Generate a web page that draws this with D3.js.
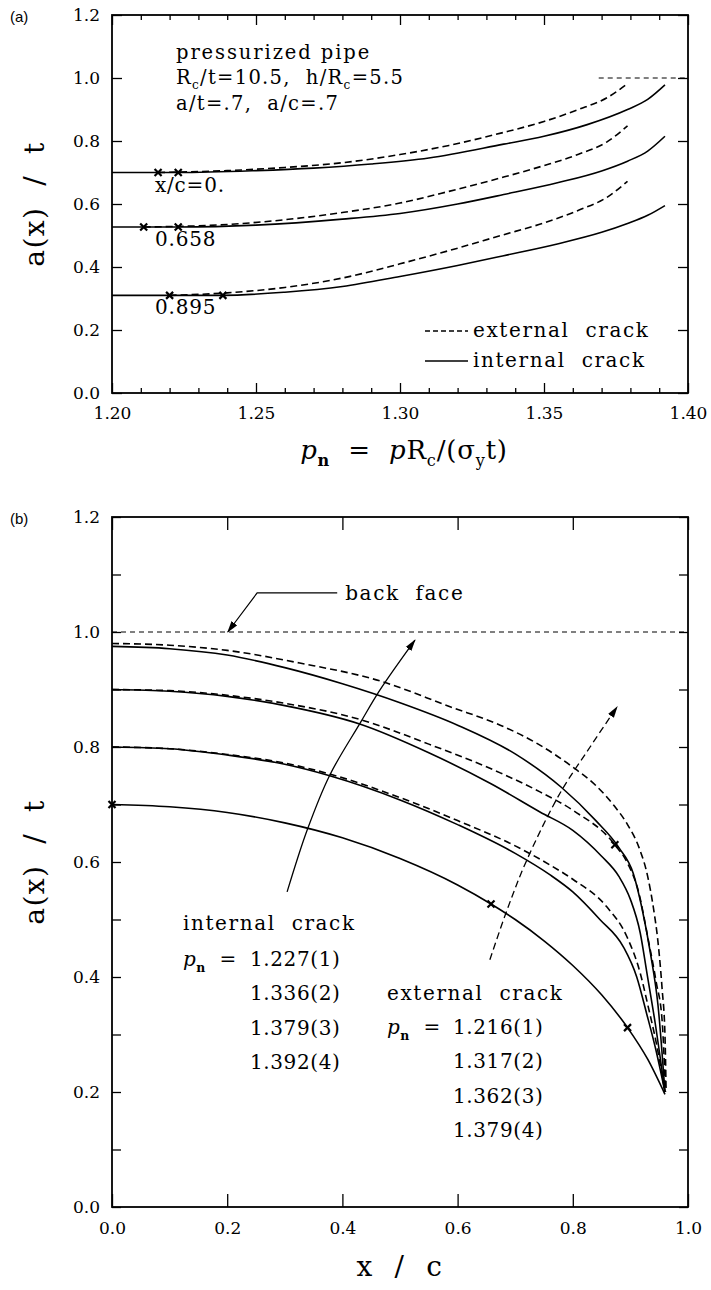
<!DOCTYPE html>
<html>
<head>
<meta charset="utf-8">
<script src="https://cdn.jsdelivr.net/npm/d3@7"></script>
<style>
  body { margin: 0; background: #fff; }
  svg text { font-family: "DejaVu Serif", serif; fill: #000; }
</style>
</head>
<body>
<svg id="chart" width="711" height="1290"></svg>
<script>

//-- panel (a) data: crack depth a(x)/t against load p_n --//
var pnTicks = [1.20, 1.25, 1.30, 1.35, 1.40];
var pnMinor = [1.21, 1.22, 1.23, 1.24, 1.26, 1.27, 1.28, 1.29, 1.31, 1.32, 1.33, 1.34, 1.36, 1.37, 1.38, 1.39];
var depthTicksA = [0, 0.2, 0.4, 0.6, 0.8, 1.0, 1.2];

// x/c = 0.
var intA0 = [[1.200,.700],[1.223,.700],[1.250,.706],[1.270,.714],[1.290,.727],[1.310,.746],[1.336,.790],[1.350,.815],[1.365,.852],[1.379,.900],[1.386,.932],[1.392,.978]];
var extA0 = [[1.216,.700],[1.240,.706],[1.260,.716],[1.280,.731],[1.300,.757],[1.317,.786],[1.335,.825],[1.350,.862],[1.362,.900],[1.372,.938],[1.379,.982]];
// x/c = 0.658
var intA1 = [[1.200,.527],[1.223,.527],[1.250,.533],[1.280,.552],[1.300,.570],[1.320,.600],[1.336,.630],[1.355,.668],[1.370,.705],[1.379,.736],[1.386,.768],[1.392,.815]];
var extA1 = [[1.211,.527],[1.240,.535],[1.260,.550],[1.280,.573],[1.300,.603],[1.317,.640],[1.335,.683],[1.350,.722],[1.362,.758],[1.372,.798],[1.379,.848]];
// x/c = 0.895
var intA2 = [[1.200,.310],[1.2385,.310],[1.260,.320],[1.280,.338],[1.300,.370],[1.320,.405],[1.336,.436],[1.355,.474],[1.370,.510],[1.379,.538],[1.386,.564],[1.392,.595]];
var extA2 = [[1.220,.310],[1.240,.318],[1.260,.335],[1.280,.365],[1.300,.410],[1.317,.452],[1.335,.500],[1.350,.540],[1.362,.580],[1.372,.622],[1.379,.672]];

var marksA = [[1.216,.700],[1.223,.700],[1.211,.527],[1.223,.527],[1.220,.310],[1.2385,.310]];
var backFaceA = [[1.369,1.0],[1.40,1.0]];
var groupLabelsA = [["x/c=0.", .700], ["0.658", .527], ["0.895", .310]];

//-- panel (b) data: crack front shape a(x)/t against x/c --//
var xcTicks = [0, 0.2, 0.4, 0.6, 0.8, 1.0];
var depthTicksB = [0, 0.2, 0.4, 0.6, 0.8, 1.0, 1.2];
var depthMinorB = [0.1, 0.3, 0.5, 0.7, 0.9, 1.1];

var shape1 = [[0,.700],[.1,.696],[.2,.686],[.3,.668],[.4,.642],[.5,.606],[.6,.560],[.658,.527],[.7,.500],[.75,.463],[.8,.420],[.85,.369],[.895,.312],[.93,.257],[.96,.196]];
var int2 = [[0,.800],[.1,.797],[.2,.786],[.3,.770],[.378,.750],[.5,.708],[.6,.665],[.7,.615],[.76,.578],[.8,.548],[.847,.500],[.888,.452],[.911,.400],[.928,.337],[.945,.270],[.96,.200]];
var int3 = [[0,.900],[.1,.897],[.2,.888],[.3,.872],[.43,.840],[.55,.790],[.658,.736],[.743,.687],[.8,.655],[.85,.610],[.88,.575],[.9,.535],[.917,.477],[.929,.405],[.943,.320],[.96,.200]];
var int4 = [[0,.975],[.1,.971],[.2,.960],[.3,.938],[.4,.910],[.5,.877],[.6,.838],[.7,.788],[.78,.730],[.84,.672],[.88,.625],[.905,.580],[.92,.520],[.935,.440],[.948,.350],[.96,.200]];
var ext2 = [[0,.800],[.1,.797],[.2,.787],[.3,.772],[.378,.753],[.5,.712],[.6,.672],[.7,.628],[.76,.595],[.8,.570],[.859,.522],[.894,.470],[.917,.407],[.931,.348],[.946,.280],[.96,.200]];
var ext3 = [[0,.900],[.1,.898],[.2,.890],[.3,.876],[.43,.848],[.55,.805],[.674,.755],[.743,.722],[.8,.690],[.873,.630],[.895,.598],[.915,.545],[.93,.470],[.945,.390],[.955,.325],[.961,.200]];
var ext4 = [[0,.980],[.1,.977],[.2,.968],[.326,.946],[.465,.915],[.587,.870],[.674,.838],[.74,.805],[.8,.765],[.84,.733],[.87,.700],[.895,.665],[.915,.625],[.93,.575],[.94,.520],[.948,.460],[.955,.380],[.96,.300],[.962,.200]];

var marksB = [[0,.700],[.658,.527],[.895,.312],[.873,.630]];
var backFaceB = [[0,1.0],[1.0,1.0]];
var backLeader = [[.391,1.068],[.252,1.068],[.201,1.0]];
var intArrow = [[.304,.548],[.339,.656],[.378,.751],[.431,.842],[.465,.899],[.526,.986]];
var extArrow = [[.656,.430],[.686,.517],[.720,.603],[.778,.720],[.830,.800],[.877,.870]];

var intLoads = ["1.227(1)", "1.336(2)", "1.379(3)", "1.392(4)"];
var extLoads = ["1.216(1)", "1.317(2)", "1.362(3)", "1.379(4)"];


//-- svg + scales --//
var svg = d3.select("#chart");

var defs = svg.append("defs");
defs.append("marker")
    .attr("id", "head")
    .attr("viewBox", "0 0 12 8")
    .attr("refX", 11).attr("refY", 4)
    .attr("markerWidth", 12).attr("markerHeight", 8)
    .attr("markerUnits", "userSpaceOnUse")
    .attr("orient", "auto")
  .append("path")
    .attr("d", "M0,0.5L12,4L0,7.5z")
    .attr("fill", "#000");

var xA = d3.scaleLinear().domain([1.20, 1.40]).range([112, 688]);
var yA = d3.scaleLinear().domain([0, 1.2]).range([393, 15]);
var xB = d3.scaleLinear().domain([0, 1]).range([112, 688]);
var yB = d3.scaleLinear().domain([0, 1.2]).range([1207, 517]);


//-- helpers --//
function rich(g, x, y, parts, size, anchor, spacing) {
    var t = g.append("text")
        .attr("x", x).attr("y", y)
        .style("font-size", size + "px")
        .style("white-space", "pre")
        .style("letter-spacing", (spacing || 0) + "px")
        .attr("text-anchor", anchor || "start");
    var shift = 0;
    parts.forEach(function(p) {
        var want = p.sub ? size * 0.28 : 0;
        var s = t.append("tspan").text(p.t).attr("dy", want - shift);
        shift = want;
        if (p.sub) s.style("font-size", (size * 0.62) + "px");
        if (p.it) s.style("font-style", "italic");
        if (p.b) s.style("font-weight", "bold");
    });
    return t;
}

function frame(x, y, o) {
    var g = svg.append("g");
    var x0 = x.range()[0], x1 = x.range()[1], y0 = y.range()[0], y1 = y.range()[1];

    function clean(sel) {
        sel.select(".domain").remove();
        sel.selectAll(".tick line").attr("stroke-width", 1.3);
        sel.selectAll("text").style("font-size", "17px").attr("fill", "#000");
    }

    g.append("g").attr("transform", `translate(0,${y0})`)
        .call(d3.axisBottom(x).tickValues(o.xMajor).tickSize(-o.xLen).tickPadding(o.xPad).tickFormat(o.xFmt))
        .call(clean);
    g.append("g").attr("transform", `translate(0,${y1})`)
        .call(d3.axisTop(x).tickValues(o.xMajor).tickSize(-o.xLen).tickFormat(""))
        .call(clean);
    if (o.xMinor) {
        g.append("g").attr("transform", `translate(0,${y0})`)
            .call(d3.axisBottom(x).tickValues(o.xMinor).tickSize(-o.xLen / 2).tickFormat(""))
            .call(clean);
        g.append("g").attr("transform", `translate(0,${y1})`)
            .call(d3.axisTop(x).tickValues(o.xMinor).tickSize(-o.xLen / 2).tickFormat(""))
            .call(clean);
    }
    g.append("g").attr("transform", `translate(${x0},0)`)
        .call(d3.axisLeft(y).tickValues(o.yMajor).tickSize(-o.yLen).tickPadding(12).tickFormat(d3.format(".1f")))
        .call(clean);
    g.append("g").attr("transform", `translate(${x1},0)`)
        .call(d3.axisRight(y).tickValues(o.yMajor).tickSize(-o.yLen).tickFormat(""))
        .call(clean);
    if (o.yMinor) {
        g.append("g").attr("transform", `translate(${x0},0)`)
            .call(d3.axisLeft(y).tickValues(o.yMinor).tickSize(-o.yLen).tickFormat(""))
            .call(clean);
        g.append("g").attr("transform", `translate(${x1},0)`)
            .call(d3.axisRight(y).tickValues(o.yMinor).tickSize(-o.yLen).tickFormat(""))
            .call(clean);
    }
    g.append("rect")
        .attr("x", x0).attr("y", y1)
        .attr("width", x1 - x0).attr("height", y0 - y1)
        .attr("fill", "none").attr("stroke", "#000").attr("stroke-width", 1.8);
    return g;
}

function curve(x, y, data, dashed, width) {
    var line = d3.line().x(d => x(d[0])).y(d => y(d[1])).curve(d3.curveMonotoneX);
    return svg.append("path")
        .attr("d", line(data))
        .attr("fill", "none")
        .attr("stroke", "#000")
        .attr("stroke-width", width || 1.6)
        .attr("stroke-dasharray", dashed ? "7,4" : null);
}

function crosses(x, y, data) {
    svg.append("g").selectAll("path")
        .data(data)
        .enter().append("path")
        .attr("transform", d => `translate(${x(d[0])},${y(d[1])})`)
        .attr("d", "M-3.5,-3.5L3.5,3.5M-3.5,3.5L3.5,-3.5")
        .attr("stroke", "#000")
        .attr("stroke-width", 2.2);
}


//-- panel (a) --//
frame(xA, yA, {xMajor: pnTicks, xMinor: pnMinor, xLen: 10, xPad: 14, xFmt: d3.format(".2f"),
               yMajor: depthTicksA, yLen: 10});

[intA0, intA1, intA2].forEach(d => curve(xA, yA, d, false));
[extA0, extA1, extA2].forEach(d => curve(xA, yA, d, true));
curve(xA, yA, backFaceA, false, 1).attr("stroke-dasharray", "5,4");
crosses(xA, yA, marksA);

var ga = svg.append("g");
rich(ga, 10, 22, [{t: "(a)"}], 15).style("font-family", "'Liberation Sans', Arial, sans-serif");
rich(ga, 176, 59, [{t: "pressurized pipe"}], 19.5, "start", 1.9);
rich(ga, 176, 84, [{t: "R"}, {t: "c", sub: 1}, {t: "/t=10.5,  h/R"}, {t: "c", sub: 1}, {t: "=5.5"}], 19.5, "start", 1.3);
rich(ga, 176, 110, [{t: "a/t=.7,  a/c=.7"}], 19.5, "start", 1.3);

groupLabelsA.forEach(function(d) {
    rich(ga, 155, yA(d[1]) + 19, [{t: d[0]}], 20, "start", 0.8);
});

// legend
var legA = [{label: "external crack", dashed: true}, {label: "internal crack", dashed: false}];
legA.forEach(function(d, i) {
    var ly = 331 + i * 30;
    svg.append("line")
        .attr("x1", 425).attr("x2", 468).attr("y1", ly).attr("y2", ly)
        .attr("stroke", "#000").attr("stroke-width", 1.6)
        .attr("stroke-dasharray", d.dashed ? "5,3" : null);
    rich(ga, 473, ly + 6, [{t: d.label.replace(" ", "  ")}], 20, "start", 1.6);
});

// axis titles
rich(ga, 0, 0, [{t: "a(x)  /  t"}], 28, "middle", 1.5)
    .attr("transform", `translate(44,${(yA.range()[0] + yA.range()[1]) / 2}) rotate(-90)`);
rich(ga, 404, 459, [{t: "p", it: 1}, {t: "n", sub: 1, b: 1}, {t: "  =  "}, {t: "p", it: 1}, {t: "R"},
                    {t: "c", sub: 1}, {t: "/("}, {t: "σ"}, {t: "y", sub: 1}, {t: "t)"}], 26, "middle", 0.8);


//-- panel (b) --//
frame(xB, yB, {xMajor: xcTicks, xLen: 13, xPad: 15, xFmt: d3.format(".1f"),
               yMajor: depthTicksB, yMinor: depthMinorB, yLen: 9});

curve(xB, yB, backFaceB, false, 1).attr("stroke-dasharray", "5,4");
[shape1, int2, int3, int4].forEach(d => curve(xB, yB, d, false));
[ext2, ext3, ext4].forEach(d => curve(xB, yB, d, true));
crosses(xB, yB, marksB);

var arrowLine = d3.line().x(d => xB(d[0])).y(d => yB(d[1])).curve(d3.curveCatmullRom);
svg.append("path").attr("d", arrowLine(intArrow))
    .attr("fill", "none").attr("stroke", "#000").attr("stroke-width", 1.3)
    .attr("marker-end", "url(#head)");
svg.append("path").attr("d", arrowLine(extArrow))
    .attr("fill", "none").attr("stroke", "#000").attr("stroke-width", 1.3)
    .attr("stroke-dasharray", "7,4")
    .attr("marker-end", "url(#head)");
svg.append("path").attr("d", d3.line().x(d => xB(d[0])).y(d => yB(d[1]))(backLeader))
    .attr("fill", "none").attr("stroke", "#000").attr("stroke-width", 1.2)
    .attr("marker-end", "url(#head)");

var gb = svg.append("g");
rich(gb, 10, 524, [{t: "(b)"}], 15).style("font-family", "'Liberation Sans', Arial, sans-serif");
rich(gb, xB(backLeader[0][0]) + 8, yB(backLeader[0][1]) + 7, [{t: "back  face"}], 20, "start", 1.6);

rich(gb, 183, 930, [{t: "internal  crack"}], 20, "start", 1.6);
rich(gb, 183, 966, [{t: "p", it: 1}, {t: "n", sub: 1, b: 1}, {t: "  ="}], 20, "start", 0.5);
intLoads.forEach(function(d, i) {
    rich(gb, 250, 966 + i * 34.3, [{t: d}], 20, "start", 0.6);
});
rich(gb, 387, 1000, [{t: "external  crack"}], 20, "start", 1.6);
rich(gb, 387, 1034, [{t: "p", it: 1}, {t: "n", sub: 1, b: 1}, {t: "  ="}], 20, "start", 0.5);
extLoads.forEach(function(d, i) {
    rich(gb, 453, 1034 + i * 34.3, [{t: d}], 20, "start", 0.6);
});

rich(gb, 0, 0, [{t: "a(x)  /  t"}], 28, "middle", 1.5)
    .attr("transform", `translate(44,${(yB.range()[0] + yB.range()[1]) / 2}) rotate(-90)`);
rich(gb, 400, 1276, [{t: "x  /  c"}], 28, "middle", 1.5);

</script>
</body>
</html>
